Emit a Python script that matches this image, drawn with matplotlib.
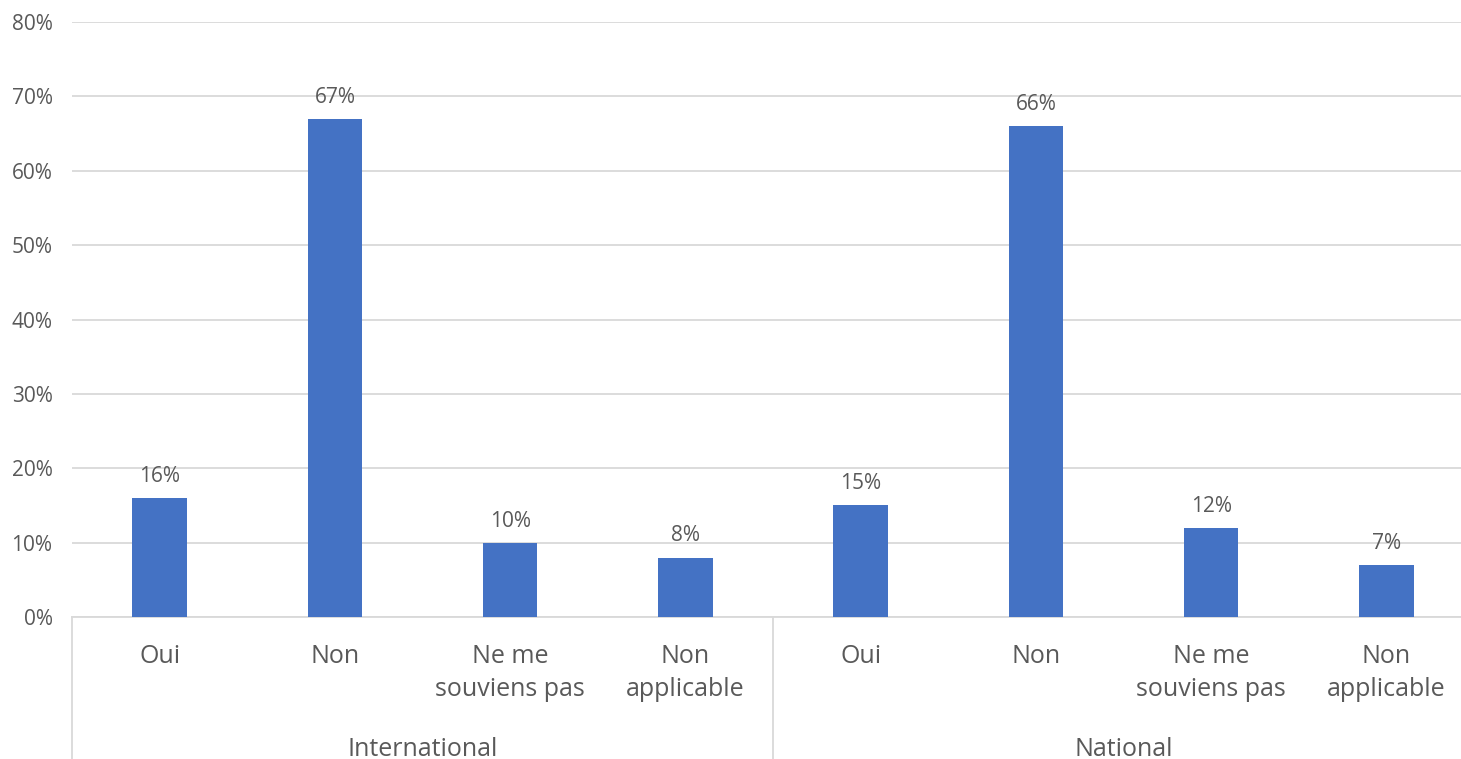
import matplotlib

matplotlib.use("Agg")
import matplotlib.pyplot as plt
from matplotlib.ticker import FuncFormatter

groups = ["International", "National"]
answers = ["Oui", "Non", "Ne me\nsouviens pas", "Non\napplicable"]
values = [16, 67, 10, 8, 15, 66, 12, 7]

BAR = "#4472C4"
GRID = "#D9D9D9"
TEXT = "#595959"

plt.rcParams["font.family"] = ["Open Sans", "DejaVu Sans"]

fig = plt.figure(figsize=(14.61, 7.59), dpi=100)
W, H = 1461, 759
x0, x1, y0, y1 = 72, 1474, 617, 22
ax = fig.add_axes([x0 / W, (H - y0) / H, (x1 - x0) / W, (y0 - y1) / H])

n = len(values)
xs = list(range(n))
ax.bar(xs, values, width=0.31, color=BAR, zorder=3)
for x, v in zip(xs, values):
    ax.annotate(f"{v}%", (x, v), xytext=(0, 8), textcoords="offset points",
                ha="center", va="bottom", fontsize=15, color=TEXT)

ax.set_xlim(-0.5, n - 0.5)
ax.set_ylim(0, 80)
ax.set_yticks(range(0, 81, 10))
ax.yaxis.set_major_formatter(FuncFormatter(lambda v, p: f"{v:.0f}%"))
ax.grid(axis="y", color=GRID, linewidth=1.3, zorder=0)
ax.tick_params(axis="y", length=0, pad=14, labelsize=15, labelcolor=TEXT)
ax.tick_params(axis="x", length=0, bottom=False, labelbottom=False)
for side in ["top", "right", "left"]:
    ax.spines[side].set_visible(False)
ax.spines["bottom"].set_color(GRID)
ax.spines["bottom"].set_linewidth(1.3)

# category labels
for x in xs:
    ax.text(x, -0.045, answers[x % len(answers)], transform=ax.get_xaxis_transform(),
            ha="center", va="top", fontsize=18, color=TEXT, linespacing=1.45)

# group labels and separators
k = len(answers)
for gi, g in enumerate(groups):
    xc = gi * k + (k - 1) / 2
    ax.text(xc, -0.222, g, transform=ax.get_xaxis_transform(),
            ha="center", va="center", fontsize=18, color=TEXT)
for b in range(len(groups) + 1):
    ax.plot([b * k - 0.5, b * k - 0.5], [0, -0.24], transform=ax.get_xaxis_transform(),
            color=GRID, linewidth=1.3, clip_on=False)

fig.savefig("out.png", dpi=100)
